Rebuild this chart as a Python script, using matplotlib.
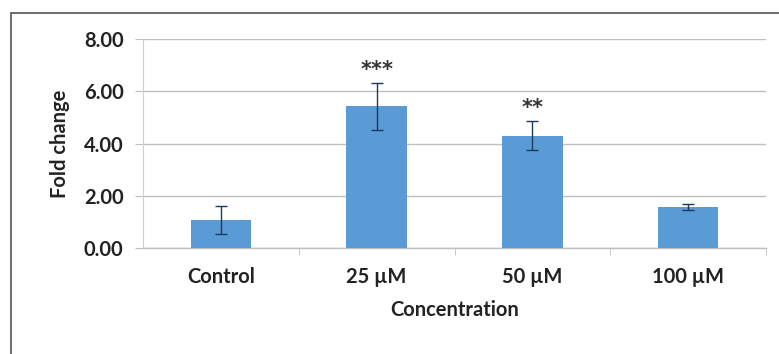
import matplotlib
matplotlib.use('Agg')
import matplotlib.pyplot as plt
from matplotlib import patches

categories = ['Control', '25 µM', '50 µM', '100 µM']
fold_change = [1.07, 5.42, 4.30, 1.57]
errors = [0.55, 0.90, 0.55, 0.13]
stars = ['', '***', '**', '']

plt.rcParams['font.family'] = ['Lato', 'DejaVu Sans']
plt.rcParams['font.weight'] = 'bold'
plt.rcParams['axes.labelweight'] = 'bold'

fig = plt.figure(figsize=(7.79, 3.54), dpi=100)
ax = fig.add_axes([0.1836, 0.2994, 0.7997, 0.5904])

x = list(range(len(categories)))
ax.bar(x, fold_change, width=0.39, color='#5B9BD5', zorder=3,
       yerr=errors, capsize=4,
       error_kw=dict(ecolor='#1F3A5F', elinewidth=1.0, capthick=1.0, zorder=4))

for xi, val, err, s in zip(x, fold_change, errors, stars):
    if s:
        ax.text(xi, val + err + 0.12, s, ha='center', va='bottom',
                fontsize=15, color='#333333', family='DejaVu Sans')

ax.set_xlim(-0.5, len(categories) - 0.5)
ax.set_ylim(0, 8)
ax.set_yticks([0, 2, 4, 6, 8])
ax.set_yticklabels(['%.2f' % v for v in [0, 2, 4, 6, 8]])
ax.set_xticks(x)
ax.set_xticklabels(categories)
ax.set_xticks([0.5, 1.5, 2.5, 3.5], minor=True)

ax.grid(axis='y', color='#BFBFBF', linewidth=1.0, zorder=0)
for side in ['top', 'right']:
    ax.spines[side].set_visible(False)
ax.spines['left'].set_color('#D0D0D0')
ax.spines['bottom'].set_color('#BFBFBF')
ax.spines['bottom'].set_linewidth(1.0)

ax.tick_params(axis='y', length=6, color='#BFBFBF', labelsize=14.5,
               labelcolor='#222222', pad=8)
ax.tick_params(axis='x', which='major', length=0, labelsize=14.5,
               labelcolor='#222222', pad=14)
ax.tick_params(axis='x', which='minor', length=5, color='#BFBFBF')

ax.set_ylabel('Fold change', fontsize=14.5, color='#222222', labelpad=10)
ax.set_xlabel('Concentration', fontsize=14.5, color='#222222', labelpad=9)

frame = patches.Rectangle((11 / 779, -0.1), 1.2, 1 - 13 / 354 + 0.1,
                          transform=fig.transFigure, fill=False,
                          edgecolor='#555555', linewidth=1.2)
fig.patches.append(frame)

fig.savefig('out.png', dpi=100)
